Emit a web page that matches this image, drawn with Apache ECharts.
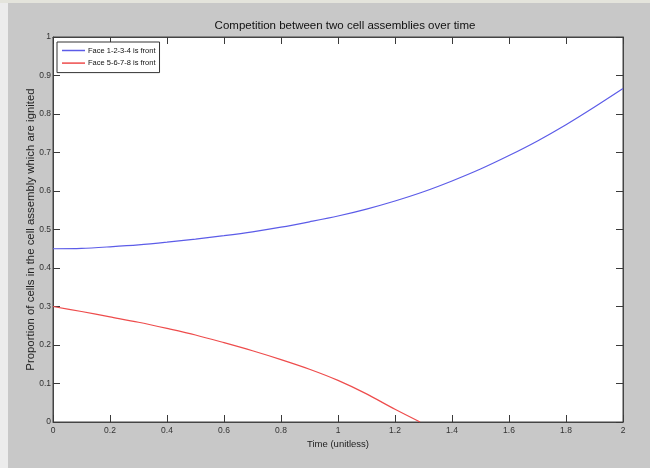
<!DOCTYPE html>
<html>
<head>
<meta charset="utf-8">
<script src="https://cdn.jsdelivr.net/npm/echarts@6/dist/echarts.min.js"></script>
<style>
html,body{margin:0;padding:0;background:#c8c8c8;}
#c{width:650px;height:468px;}
</style>
</head>
<body>
<div id="c"></div>
<script>
const titleText = 'Competition between two cell assemblies over time';
const xTitle = 'Time (unitless)';
const yTitle = 'Proportion of cells in the cell assembly which are ignited';
const seriesNames = ['Face 1-2-3-4 is front', 'Face 5-6-7-8 is front'];
const xTicks = [0, 0.2, 0.4, 0.6, 0.8, 1, 1.2, 1.4, 1.6, 1.8, 2];
const yTicks = [0, 0.1, 0.2, 0.3, 0.4, 0.5, 0.6, 0.7, 0.8, 0.9, 1];

const timeA = [0, 0.1, 0.2, 0.3, 0.4, 0.5, 0.6, 0.7, 0.8, 0.9, 1.0, 1.1, 1.2, 1.3, 1.4, 1.5, 1.6, 1.7, 1.8, 1.9, 2.0];
const valuesA = [0.450, 0.451, 0.455, 0.460, 0.467, 0.475, 0.484, 0.494, 0.506, 0.520, 0.535, 0.553, 0.574, 0.598, 0.626, 0.657, 0.692, 0.730, 0.772, 0.818, 0.866];

const timeB = [0, 0.1, 0.2, 0.3, 0.4, 0.5, 0.6, 0.7, 0.8, 0.9, 1.0, 1.1, 1.2, 1.288];
const valuesB = [0.300, 0.287, 0.273, 0.259, 0.243, 0.226, 0.206, 0.185, 0.162, 0.137, 0.108, 0.073, 0.033, 0.0];

const font = '"Liberation Sans", Arial, sans-serif';

const chart = echarts.init(document.getElementById('c'), null, {renderer: 'canvas'});
const G = {left: 53, right: 27, top: 37, bottom: 46};

const tickStyle = {show: true, inside: true, length: 7, lineStyle: {color: '#3a3a3a', width: 1}};
const lineStyleAxis = {show: true, onZero: false, lineStyle: {color: '#444'}};
const xRange = {min: xTicks[0], max: xTicks[xTicks.length - 1], interval: 0.2};
const yRange = {min: yTicks[0], max: yTicks[yTicks.length - 1], interval: 0.1};

chart.setOption({
  backgroundColor: '#c8c8c8',
  animation: false,
  title: {
    text: titleText, left: 340, top: 15, textAlign: 'center',
    textStyle: {fontFamily: font, fontSize: 11.5, fontWeight: 'normal', color: '#111'}
  },
  legend: {
    left: 57, top: 42, orient: 'vertical',
    backgroundColor: '#fff', borderColor: '#333', borderWidth: 1,
    padding: [4, 4, 5, 5], itemGap: 3.6, itemWidth: 23, itemHeight: 1.5,
    icon: 'rect',
    textStyle: {fontFamily: font, fontSize: 7.5, lineHeight: 9, color: '#111', padding: [0, 0, 0, -2]},
    data: seriesNames
  },
  grid: Object.assign({containLabel: false, show: true, backgroundColor: '#fff', borderColor: '#444', borderWidth: 1}, G),
  xAxis: [Object.assign({
    type: 'value', name: xTitle, nameLocation: 'middle', nameGap: 17, nameMoveOverlap: false,
    nameTextStyle: {fontFamily: font, fontSize: 9.5, color: '#222'},
    axisLine: lineStyleAxis, axisTick: tickStyle,
    axisLabel: {fontFamily: font, fontSize: 8.5, color: '#333', margin: 4},
    splitLine: {show: false}
  }, xRange), Object.assign({
    type: 'value', position: 'top',
    axisLine: lineStyleAxis, axisTick: tickStyle, axisLabel: {show: false}, splitLine: {show: false}
  }, xRange)],
  yAxis: [Object.assign({
    type: 'value', name: yTitle, nameLocation: 'middle', nameGap: 17, nameMoveOverlap: false,
    nameTextStyle: {fontFamily: font, fontSize: 11.4, color: '#222'},
    axisLine: lineStyleAxis, axisTick: tickStyle,
    axisLabel: {fontFamily: font, fontSize: 8.5, color: '#333', margin: 2},
    splitLine: {show: false}
  }, yRange), Object.assign({
    type: 'value', position: 'right',
    axisLine: lineStyleAxis, axisTick: tickStyle, axisLabel: {show: false}, splitLine: {show: false}
  }, yRange)],
  graphic: [
    {type: 'rect', left: 0, top: 0, shape: {width: 650, height: 3}, style: {fill: '#e4e4dc'}, silent: true},
    {type: 'rect', left: 0, top: 3, shape: {width: 8, height: 465}, style: {fill: '#ececec'}, silent: true}
  ],
  series: [{
    name: seriesNames[0], type: 'line', showSymbol: false, smooth: 0.3,
    xAxisIndex: 0, yAxisIndex: 0,
    color: '#5c5ce8', lineStyle: {width: 1.2, color: '#5c5ce8'},
    data: timeA.map((t, i) => [t, valuesA[i]])
  }, {
    name: seriesNames[1], type: 'line', showSymbol: false, smooth: 0.3,
    xAxisIndex: 0, yAxisIndex: 0,
    color: '#ee4c4c', lineStyle: {width: 1.2, color: '#ee4c4c'},
    data: timeB.map((t, i) => [t, valuesB[i]])
  }]
});
</script>
</body>
</html>
